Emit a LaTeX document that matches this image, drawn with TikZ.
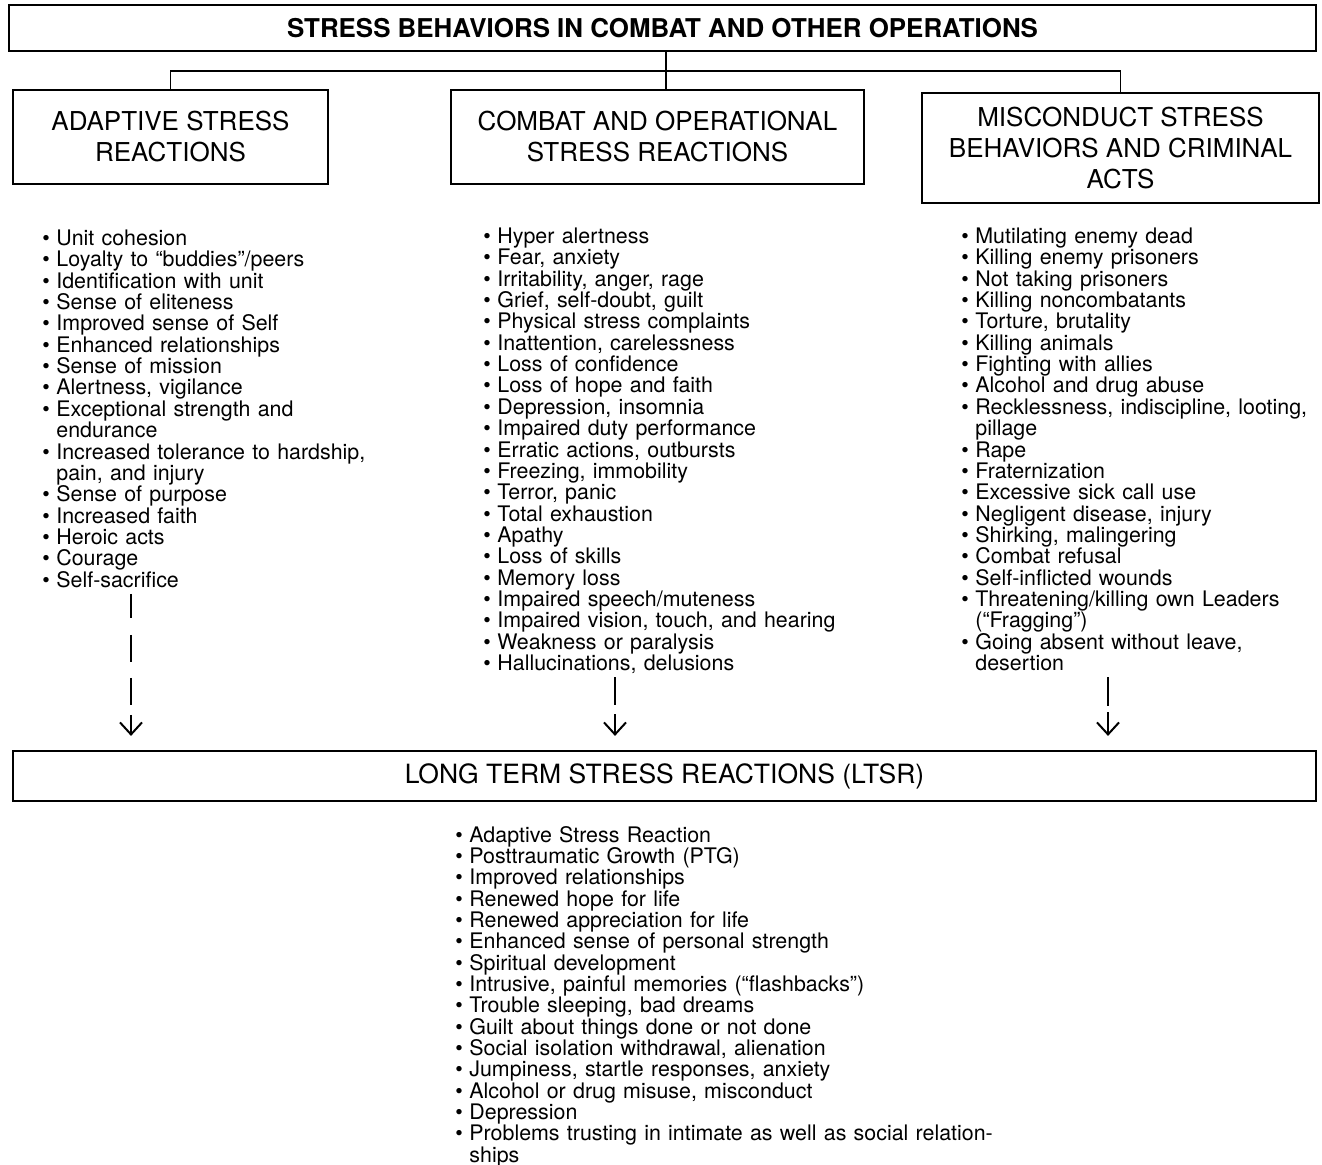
\documentclass[tikz,border=0pt]{standalone}
\usepackage{fontspec}
\setmainfont{TeX Gyre Heros}
\usetikzlibrary{arrows.meta}

\newcommand{\listfont}{\fontsize{10.7}{10.67}\selectfont\lineskiplimit=-10pt\spaceskip=0.34em plus 0.1em\relax}
\newcommand{\lstrut}{\rule[-3.2pt]{0pt}{10.65pt}}
\newcommand{\bu}{\lstrut\makebox[7pt][l]{\textbullet}}
\newcommand{\cont}{\lstrut\hspace*{7pt}}

\begin{document}
\begin{tikzpicture}[x=0.5pt, y=-0.5pt,
    hbox/.style={draw, line width=1.1pt, inner sep=0pt, align=center, font=\fontsize{13}{15.5}\selectfont},
    items/.style={anchor=north west, inner sep=0pt, align=left, font=\listfont},
    link/.style={line width=0.65pt},
    flow/.style={line width=1pt, -{Straight Barb[length=6pt,width=11pt]}, shorten >=7pt}]

    \useasboundingbox (0,0) rectangle (1322,1164);

    % boxes
    \node[hbox, font=\fontsize{12.95}{15.5}\selectfont\bfseries, minimum width=653.5pt, minimum height=23pt] (title) at (662.5, 28) {STRESS BEHAVIORS IN COMBAT AND OTHER OPERATIONS};
    \node[hbox, minimum width=157.5pt, minimum height=47pt] (adaptive) at (170.5, 137) {ADAPTIVE STRESS\\REACTIONS};
    \node[hbox, minimum width=206.5pt, minimum height=47pt] (combat) at (657.5, 137) {COMBAT AND OPERATIONAL\\STRESS REACTIONS};
    \node[hbox, minimum width=198.5pt, minimum height=55pt] (misconduct) at (1120.5, 148) {MISCONDUCT STRESS\\BEHAVIORS AND CRIMINAL\\ACTS};
    \node[hbox, font=\fontsize{13.25}{15.5}\selectfont, minimum width=651.5pt, minimum height=25pt] (ltsr) at (664.5, 776) {LONG TERM STRESS REACTIONS (LTSR)};

    % lists
    \node[items] (adaptlist) at (42, 229.6) {%
        \bu Unit cohesion\\
        \bu Loyalty to “buddies”/peers\\
        \bu Identification with unit\\
        \bu Sense of eliteness\\
        \bu Improved sense of Self\\
        \bu Enhanced relationships\\
        \bu Sense of mission\\
        \bu Alertness, vigilance\\
        \bu Exceptional strength and\\
        \cont endurance\\
        \bu Increased tolerance to hardship,\\
        \cont pain, and injury\\
        \bu Sense of purpose\\
        \bu Increased faith\\
        \bu Heroic acts\\
        \bu Courage\\
        \bu Self-sacrifice};
    \node[items] (combatlist) at (483, 227.6) {%
        \bu Hyper alertness\\
        \bu Fear, anxiety\\
        \bu Irritability, anger, rage\\
        \bu Grief, self-doubt, guilt\\
        \bu Physical stress complaints\\
        \bu Inattention, carelessness\\
        \bu Loss of confidence\\
        \bu Loss of hope and faith\\
        \bu Depression, insomnia\\
        \bu Impaired duty performance\\
        \bu Erratic actions, outbursts\\
        \bu Freezing, immobility\\
        \bu Terror, panic\\
        \bu Total exhaustion\\
        \bu Apathy\\
        \bu Loss of skills\\
        \bu Memory loss\\
        \bu Impaired speech/muteness\\
        \bu Impaired vision, touch, and hearing\\
        \bu Weakness or paralysis\\
        \bu Hallucinations, delusions};
    \node[items] (misclist) at (961, 227.6) {%
        \bu Mutilating enemy dead\\
        \bu Killing enemy prisoners\\
        \bu Not taking prisoners\\
        \bu Killing noncombatants\\
        \bu Torture, brutality\\
        \bu Killing animals\\
        \bu Fighting with allies\\
        \bu Alcohol and drug abuse\\
        \bu Recklessness, indiscipline, looting,\\
        \cont pillage\\
        \bu Rape\\
        \bu Fraternization\\
        \bu Excessive sick call use\\
        \bu Negligent disease, injury\\
        \bu Shirking, malingering\\
        \bu Combat refusal\\
        \bu Self-inflicted wounds\\
        \bu Threatening/killing own Leaders\\
        \cont (“Fragging”)\\
        \bu Going absent without leave,\\
        \cont desertion};
    \node[items] (ltsrlist) at (455, 825.6) {%
        \bu Adaptive Stress Reaction\\
        \bu Posttraumatic Growth (PTG)\\
        \bu Improved relationships\\
        \bu Renewed hope for life\\
        \bu Renewed appreciation for life\\
        \bu Enhanced sense of personal strength\\
        \bu Spiritual development\\
        \bu Intrusive, painful memories (“flashbacks”)\\
        \bu Trouble sleeping, bad dreams\\
        \bu Guilt about things done or not done\\
        \bu Social isolation withdrawal, alienation\\
        \bu Jumpiness, startle responses, anxiety\\
        \bu Alcohol or drug misuse, misconduct\\
        \bu Depression\\
        \bu Problems trusting in intimate as well as social relation-\\
        \cont ships};

    % tree
    \coordinate (J) at (666, 71);
    \draw[link] (title.south -| J) -- (J);
    \draw[link] (adaptive.north) |- (J) -| (misconduct.north);
    \draw[link] (J) -- (combat.north -| J);

    % arrows down to LTSR
    \coordinate (a1) at (131, 0);
    \coordinate (a2) at (615, 0);
    \coordinate (a3) at (1108, 0);
    \draw[flow, dash pattern=on 12pt off 8.5pt on 13.5pt off 8pt on 13.5pt off 5pt on 30pt] (adaptlist.south -| a1) -- (ltsr.north -| a1);
    \draw[flow, dash pattern=on 14pt off 4.5pt on 30pt] (combatlist.south -| a2) -- (ltsr.north -| a2);
    \draw[flow, dash pattern=on 14.5pt off 3pt on 30pt] (misclist.south -| a3) -- (ltsr.north -| a3);

\end{tikzpicture}
\end{document}
